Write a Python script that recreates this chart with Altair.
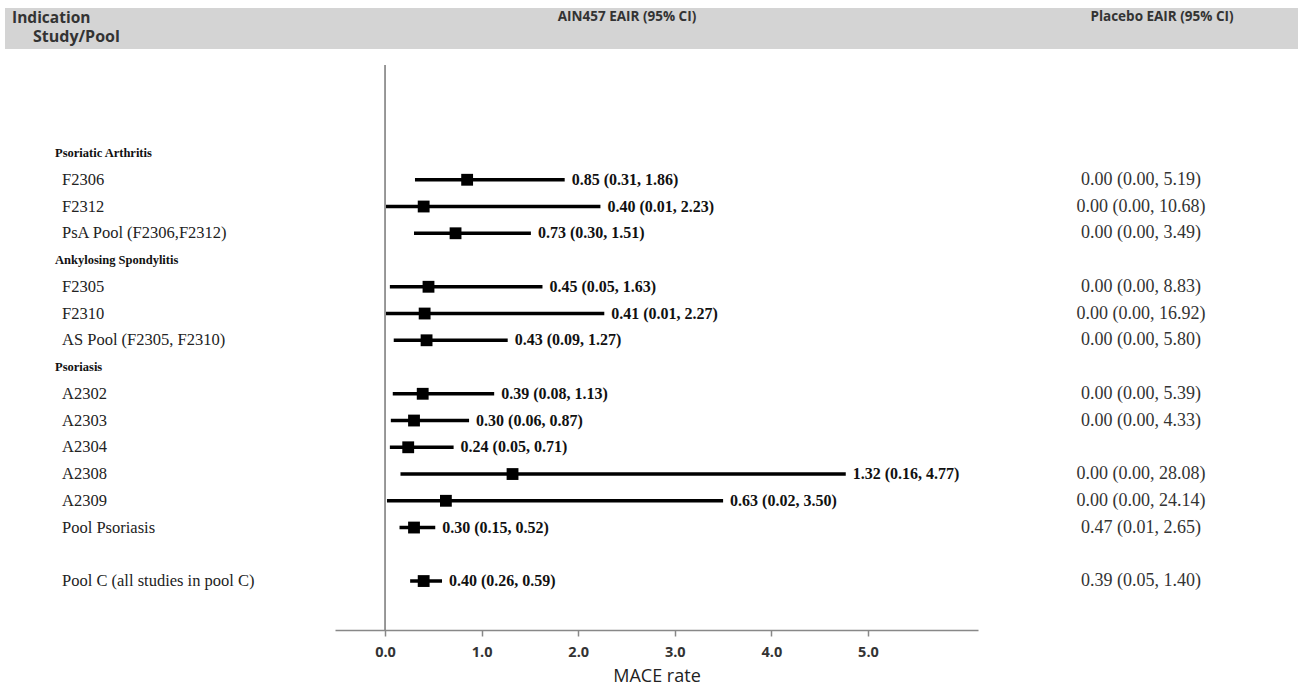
import altair as alt
import pandas as pd

# ---- data -------------------------------------------------------------
groups = ["Psoriatic Arthritis", "Ankylosing Spondylitis", "Psoriasis"]
group_rows = [0, 4, 8]

studies = [
    "F2306", "F2312", "PsA Pool (F2306,F2312)",
    "F2305", "F2310", "AS Pool (F2305, F2310)",
    "A2302", "A2303", "A2304", "A2308", "A2309", "Pool Psoriasis",
    "Pool C (all studies in pool C)",
]
study_rows = [1, 2, 3, 5, 6, 7, 9, 10, 11, 12, 13, 14, 16]

ain_rate = [0.85, 0.40, 0.73, 0.45, 0.41, 0.43, 0.39, 0.30, 0.24, 1.32, 0.63, 0.30, 0.40]
ain_low = [0.31, 0.01, 0.30, 0.05, 0.01, 0.09, 0.08, 0.06, 0.05, 0.16, 0.02, 0.15, 0.26]
ain_high = [1.86, 2.23, 1.51, 1.63, 2.27, 1.27, 1.13, 0.87, 0.71, 4.77, 3.50, 0.52, 0.59]

pbo_rate = [0.00, 0.00, 0.00, 0.00, 0.00, 0.00, 0.00, 0.00, None, 0.00, 0.00, 0.47, 0.39]
pbo_low = [0.00, 0.00, 0.00, 0.00, 0.00, 0.00, 0.00, 0.00, None, 0.00, 0.00, 0.01, 0.05]
pbo_high = [5.19, 10.68, 3.49, 8.83, 16.92, 5.80, 5.39, 4.33, None, 28.08, 24.14, 2.65, 1.40]

x_ticks = [0, 1, 2, 3, 4, 5]
header_left = ["Indication", "Study/Pool"]
header_ain = "AIN457 EAIR (95% CI)"
header_pbo = "Placebo EAIR (95% CI)"
x_title = "MACE rate"


def fmt(r, lo, hi):
    if r is None:
        return ""
    return f"{r:.2f} ({lo:.2f}, {hi:.2f})"


studies_df = pd.DataFrame({
    "study": studies,
    "row": study_rows,
    "rate": ain_rate,
    "low": ain_low,
    "high": ain_high,
    "ain_label": [fmt(r, l, h) for r, l, h in zip(ain_rate, ain_low, ain_high)],
    "pbo_label": [fmt(r, l, h) for r, l, h in zip(pbo_rate, pbo_low, pbo_high)],
})
groups_df = pd.DataFrame({"group": groups, "row": group_rows})
one = pd.DataFrame({"zero": [0]})

# ---- layout -----------------------------------------------------------
W, H = 643, 565
PAD_L, PAD_T = 335, 65

x_scale = alt.Scale(domain=[-0.518, 6.139], nice=False, zero=False)
y_scale = alt.Scale(domain=[-3.29, 17.83], reverse=True, nice=False, zero=False)
Y = alt.Y("row:Q", scale=y_scale, axis=None)

serif = "Liberation Serif"
sans = "Open Sans"

# header band
band = alt.Chart(one).mark_rect(color="#d4d4d4").encode(
    x=alt.value(5 - PAD_L), x2=alt.value(1298 - PAD_L),
    y=alt.value(8 - PAD_T), y2=alt.value(49 - PAD_T),
)

def header(text, x, y, align, size):
    return alt.Chart(one).mark_text(
        text=text, font=sans, fontSize=size, fontWeight="bold", color="#333",
        align=align, baseline="middle",
    ).encode(x=alt.value(x - PAD_L), y=alt.value(y - PAD_T))

headers = [
    header(header_left[0], 12, 18, "left", 15.5),
    header(header_left[1], 33, 37, "left", 16),
    header(header_ain, 627, 17, "center", 13.5),
    header(header_pbo, 1162, 17, "center", 13.5),
]

# vertical reference line at zero
zero_line = alt.Chart(one).mark_rule(color="#777", strokeWidth=1.5).encode(
    x=alt.X("zero:Q", scale=x_scale),
    y=alt.value(0), y2=alt.value(H),
)

# confidence intervals
ci = alt.Chart(studies_df).mark_rule(color="black", strokeWidth=3.5).encode(
    x=alt.X("low:Q", scale=x_scale, title=x_title,
            axis=alt.Axis(values=x_ticks, format=".1f", grid=False,
                          domainColor="#888", domainWidth=1.5,
                          tickColor="#888", tickWidth=1.5, tickSize=6,
                          labelFont=sans, labelFontSize=14.5, labelFontWeight="bold",
                          labelColor="#333", labelPadding=9,
                          titleFont=sans, titleFontSize=18, titleFontWeight="normal",
                          titleColor="#222", titlePadding=9)),
    x2="high:Q",
    y=Y,
)

points = alt.Chart(studies_df).mark_square(color="black", size=140, opacity=1).encode(
    x=alt.X("rate:Q", scale=x_scale), y=Y,
)

ci_text = alt.Chart(studies_df).mark_text(
    font=serif, fontSize=16, fontWeight="bold", color="#111",
    align="left", baseline="middle", dx=7,
).encode(x=alt.X("high:Q", scale=x_scale), y=Y, text="ain_label:N")

study_text = alt.Chart(studies_df).mark_text(
    font=serif, fontSize=16.5, color="#222", align="left", baseline="middle",
).encode(x=alt.value(62 - PAD_L), y=Y, text="study:N")

group_text = alt.Chart(groups_df).mark_text(
    font=serif, fontSize=12.5, fontWeight="bold", color="#111",
    align="left", baseline="middle",
).encode(x=alt.value(55 - PAD_L), y=Y, text="group:N")

pbo_text = alt.Chart(studies_df).mark_text(
    font=serif, fontSize=18, color="#333", align="center", baseline="middle",
).encode(x=alt.value(1141 - PAD_L), y=Y, text="pbo_label:N")

chart = alt.layer(
    band, *headers, zero_line, ci, points, ci_text, study_text, group_text, pbo_text,
).properties(
    width=W, height=H,
    autosize=alt.AutoSizeParams(type="none"),
    padding={"left": PAD_L, "top": PAD_T, "right": 1298 - PAD_L - W, "bottom": 692 - PAD_T - H},
).configure(background="white").configure_view(stroke=None)

chart.save("out.html", embed_options={"renderer": "svg", "actions": False})
